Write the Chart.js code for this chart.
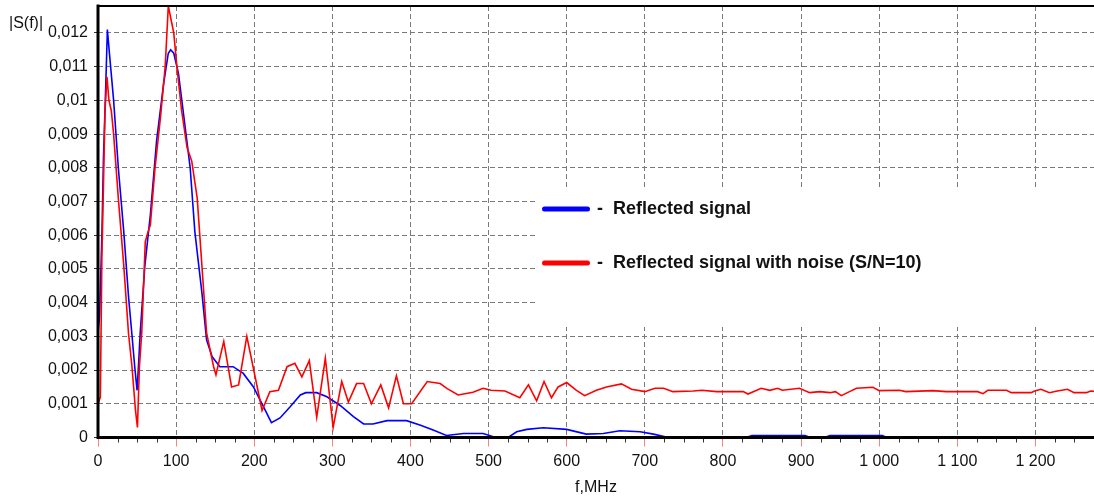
<!DOCTYPE html>
<html>
<head>
<meta charset="utf-8">
<title>|S(f)| spectrum</title>
<script src="https://cdn.jsdelivr.net/npm/chart.js@4.4.0/dist/chart.umd.min.js"></script>
<style>
  html, body { margin: 0; padding: 0; background: #fff; }
  #wrap { width: 1094px; height: 497px; position: relative; }
</style>
</head>
<body>
<div id="wrap"><canvas id="spectrum"></canvas></div>
<script>
// Spectrum magnitude of the reflected pulse, with and without additive noise
const reflectedFreq = [0, 2, 5, 7, 10, 12, 15, 20, 26, 33, 39, 44, 47, 50, 52, 54, 60, 67, 75, 84,
  90, 93, 97, 103, 110, 118, 124, 133, 139, 146, 156, 173, 186, 199, 210, 222, 233, 246, 259, 266,
  280, 293, 310, 327, 340, 352, 370, 395, 412, 429, 446, 468, 493, 506, 525, 536, 549, 570, 600, 625,
  647, 668, 694, 711, 726, 740, 830, 837, 905, 912, 930, 937, 1004, 1010, 1275];
const reflectedAmp = [0.0031, 0.0036, 0.0060, 0.0083, 0.0105, 0.0121, 0.0113, 0.0100, 0.0080, 0.0061,
  0.0042, 0.0029, 0.0021, 0.0014, 0.0022, 0.0031, 0.0051, 0.0066, 0.0088, 0.0105,
  0.0114, 0.0115, 0.0114, 0.0108, 0.0095, 0.0080, 0.0061, 0.0043, 0.0029, 0.0024,
  0.0021, 0.0021, 0.0019, 0.0015, 0.0010, 0.00044, 0.00058, 0.00091, 0.00126, 0.00133,
  0.00133, 0.00121, 0.00095, 0.00062, 0.00040, 0.00040, 0.00050, 0.00050, 0.00037, 0.00022,
  0.00006, 0.00012, 0.00012, 0.00002, 0, 0.00017, 0.00024, 0.00029, 0.00024, 0.00010,
  0.00012, 0.00020, 0.00017, 0.00010, 0.00002, 0, 0, 0.00006, 0.00006, 0,
  0, 0.00006, 0.00006, 0, 0];

const noisyFreq = [0, 3, 5, 7, 9, 11.5, 14, 17, 20, 26, 33, 39, 43.5, 48, 50.5, 53, 56, 60.5, 64, 67,
  73, 80, 86, 90, 97, 101, 107, 114, 120, 127, 133, 139, 148, 151, 161, 171, 180, 190.5, 210, 220,
  231, 242, 252, 261, 270.5, 280, 291, 301, 312, 320.5, 331, 340, 350, 362, 372, 382, 391, 401.5, 421.5, 438,
  447, 461, 480, 493, 503, 521, 540, 551, 561.5, 571, 580.5, 589, 600, 612.5, 623, 638, 651, 670, 683, 700,
  713, 724, 736, 762, 773, 792, 826, 832, 849, 860, 870, 876, 898, 911, 924, 937, 944, 951.5, 962, 971,
  992, 1000, 1026, 1034, 1069, 1086, 1126, 1133, 1139, 1163, 1169, 1194.5, 1199, 1207, 1218, 1228, 1241,
  1249.5, 1265, 1271, 1275];
const noisyAmp = [0.0010, 0.0012, 0.0054, 0.0075, 0.0097, 0.0107, 0.0100, 0.0097, 0.0090, 0.0071,
  0.0051, 0.0031, 0.0021, 0.0008, 0.0003, 0.0021, 0.0031, 0.0058, 0.0061, 0.0063,
  0.0080, 0.0095, 0.0110, 0.0128, 0.0120, 0.0110, 0.0097, 0.0086, 0.0082, 0.0071,
  0.0051, 0.0031, 0.0021, 0.00186, 0.00285, 0.0015, 0.00156, 0.0030, 0.0008, 0.00136,
  0.0014, 0.0021, 0.0022, 0.0018, 0.00228, 0.0006, 0.00235, 0.0003, 0.00166, 0.00105,
  0.0016, 0.0016, 0.0010, 0.00156, 0.00088, 0.00183, 0.0010, 0.0010, 0.00166, 0.0016,
  0.00145, 0.00126, 0.00134, 0.00146, 0.0014, 0.00138, 0.00118, 0.00156, 0.00109, 0.00166,
  0.00118, 0.0015, 0.00163, 0.0014, 0.00124, 0.0014, 0.0015, 0.00159, 0.00143, 0.00136,
  0.00146, 0.00146, 0.00136, 0.00138, 0.0014, 0.00136, 0.00136, 0.00129, 0.00146, 0.0014,
  0.00146, 0.0014, 0.00146, 0.00133, 0.00136, 0.00133, 0.00136, 0.00124, 0.00136, 0.00146,
  0.00149, 0.00139, 0.0014, 0.00136, 0.00139, 0.00136, 0.00136, 0.0013, 0.0014, 0.0014,
  0.00133, 0.00133, 0.00138, 0.00143, 0.00133, 0.00138, 0.00143, 0.00133, 0.00133, 0.00138,
  0.00137];

const seriesLabels = ['Reflected signal', 'Reflected signal with noise (S/N=10)'];
const seriesColors = ['#0000ff', '#ff0000'];

const xTickLabels = ['0', '100', '200', '300', '400', '500', '600', '700', '800', '900', '1 000', '1 100', '1 200'];
const yTickLabels = ['0', '0,001', '0,002', '0,003', '0,004', '0,005', '0,006', '0,007', '0,008', '0,009', '0,01', '0,011', '0,012'];
const xTitle = 'f,MHz';
const yTitle = '|S(f)|';
const freqMax = 1275;
const ampMax = 0.0128;

const FONT = '"Liberation Sans", Arial, sans-serif';
Chart.defaults.font.family = FONT;
Chart.defaults.font.size = 16;
Chart.defaults.color = '#111';

const toPoints = (xs, ys) => xs.map((x, i) => ({ x: x, y: ys[i] }));

// axes frame, minor ticks, axis titles and the boxed legend
const decorations = {
  id: 'decorations',
  beforeDatasetsDraw(chart) {
    const { ctx, chartArea } = chart;
    ctx.save();
    ctx.fillStyle = '#fff';
    ctx.fillRect(535, 187, chartArea.right - 535, 140);
    ctx.restore();
  },
  afterDatasetsDraw(chart) {
    const { ctx, chartArea, scales } = chart;
    const xs = scales.x;
    ctx.save();
    // minor ticks every 25 MHz
    ctx.strokeStyle = '#333';
    ctx.lineWidth = 1;
    ctx.beginPath();
    for (let f = 25; f < freqMax; f += 25) {
      if (f % 100 === 0) continue;
      const px = Math.round(xs.getPixelForValue(f)) + 0.5;
      ctx.moveTo(px, chartArea.bottom);
      ctx.lineTo(px, chartArea.bottom + 5);
    }
    ctx.stroke();
    // frame: heavy left and bottom axes, thinner top edge
    ctx.strokeStyle = '#000';
    ctx.lineCap = 'square';
    ctx.lineWidth = 3;
    ctx.beginPath();
    ctx.moveTo(chartArea.left, chartArea.top);
    ctx.lineTo(chartArea.left, chartArea.bottom);
    ctx.lineTo(chartArea.right, chartArea.bottom);
    ctx.stroke();
    ctx.lineWidth = 2;
    ctx.beginPath();
    ctx.moveTo(chartArea.left, chartArea.top);
    ctx.lineTo(chartArea.right, chartArea.top);
    ctx.stroke();
    ctx.restore();
  },
  afterDraw(chart) {
    const { ctx, chartArea } = chart;
    ctx.save();
    ctx.fillStyle = '#111';
    ctx.font = '16px ' + FONT;
    ctx.textBaseline = 'alphabetic';
    ctx.textAlign = 'left';
    ctx.fillText(yTitle, 9, 28);
    ctx.textAlign = 'center';
    ctx.fillText(xTitle, (chartArea.left + chartArea.right) / 2, 492);

    // legend
    const rowY = [209, 263];
    chart.data.datasets.forEach((ds, i) => {
      const yy = rowY[i];
      ctx.strokeStyle = ds.borderColor;
      ctx.lineWidth = 5;
      ctx.lineCap = 'round';
      ctx.beginPath();
      ctx.moveTo(544.5, yy);
      ctx.lineTo(587.5, yy);
      ctx.stroke();
      ctx.fillStyle = '#111';
      ctx.font = 'bold 18px ' + FONT;
      ctx.textAlign = 'left';
      ctx.textBaseline = 'middle';
      ctx.fillText('-', 597, yy);
      ctx.fillText(ds.label, 613, yy);
    });
    ctx.restore();
  }
};

new Chart(document.getElementById('spectrum'), {
  type: 'line',
  data: {
    datasets: [
      {
        label: seriesLabels[0],
        data: toPoints(reflectedFreq, reflectedAmp),
        borderColor: seriesColors[0],
        borderWidth: 1.6,
        pointRadius: 0,
        tension: 0,
        fill: false,
        order: 1
      },
      {
        label: seriesLabels[1],
        data: toPoints(noisyFreq, noisyAmp),
        borderColor: seriesColors[1],
        borderWidth: 1.6,
        pointRadius: 0,
        tension: 0,
        fill: false,
        order: 0
      }
    ]
  },
  options: {
    responsive: true,
    maintainAspectRatio: false,
    animation: false,
    events: [],
    layout: { padding: { top: 6, right: 0, bottom: 0, left: 0 } },
    plugins: { legend: { display: false }, tooltip: { enabled: false } },
    scales: {
      x: {
        type: 'linear',
        min: 0,
        max: freqMax,
        ticks: {
          stepSize: 100,
          includeBounds: false,
          autoSkip: false,
          maxRotation: 0,
          padding: 5,
          color: '#111',
          callback: (v, i) => xTickLabels[i]
        },
        grid: {
          color: '#7a7a7a',
          lineWidth: 1,
          drawTicks: true,
          tickLength: 9,
          tickColor: '#ff8080',
          tickWidth: 1
        },
        border: { display: false, dash: [5, 3] },
        afterFit: (s) => { s.height = 59.5; s.paddingLeft = 0; s.paddingRight = 0; }
      },
      y: {
        type: 'linear',
        min: 0,
        max: ampMax,
        ticks: {
          stepSize: 0.001,
          includeBounds: false,
          autoSkip: false,
          padding: 6,
          color: '#111',
          callback: (v, i) => yTickLabels[i]
        },
        grid: {
          color: '#7a7a7a',
          lineWidth: 1,
          drawTicks: true,
          tickLength: 4,
          tickColor: '#333'
        },
        border: { display: false, dash: [5, 3] },
        afterFit: (s) => { s.width = 98; s.paddingTop = 0; s.paddingBottom = 0; }
      }
    }
  },
  plugins: [decorations]
});
</script>
</body>
</html>
